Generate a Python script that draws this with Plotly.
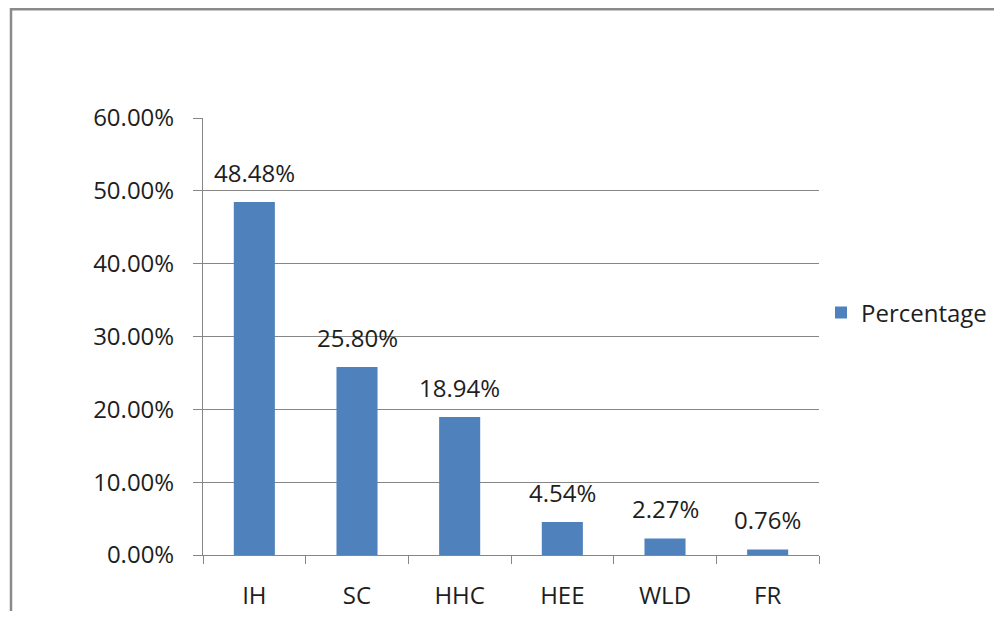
import plotly.graph_objects as go

categories = ["IH", "SC", "HHC", "HEE", "WLD", "FR"]
percentages = [0.4848, 0.2580, 0.1894, 0.0454, 0.0227, 0.0076]
series_name = "Percentage"

# page body has an 8px margin on every side; size the figure so the page is 1002x619
OFF = 8
W, H = 1002 - 2 * OFF, 619 - 2 * OFF
L, R, T, B = 203 - OFF, 819 - OFF, 118 - OFF, 555 - OFF
pw, ph = R - L, B - T

FONT = "Open Sans"
FS = 24
TXT = "#1e1e1e"
GRID = "#868686"
BAR = "#4F81BD"

fig = go.Figure()
fig.add_trace(go.Bar(
    x=categories, y=percentages, name=series_name,
    marker=dict(color=BAR, line=dict(width=0)),
    width=0.4, showlegend=True,
))

annotations = [
    dict(x=c, y=v, xref="x", yref="y", text=f"{v*100:.2f}%", showarrow=False,
         yanchor="bottom", yshift=11, font=dict(family=FONT, size=FS, color=TXT))
    for c, v in zip(categories, percentages)
]

fig.update_layout(
    width=W, height=H,
    margin=dict(l=L, r=W - R, t=T, b=H - B, pad=0, autoexpand=False),
    paper_bgcolor="white", plot_bgcolor="white",
    font=dict(family=FONT, size=FS, color=TXT),
    bargap=0.6,
    legend=dict(x=(821 - OFF - L) / pw, y=(B - (313 - OFF)) / ph,
                xanchor="left", yanchor="middle",
                font=dict(family=FONT, size=FS, color=TXT), itemwidth=30,
                bgcolor="rgba(0,0,0,0)"),
    annotations=annotations,
    shapes=[dict(type="rect", xref="paper", yref="paper",
                 x0=(11 - OFF - L) / pw, x1=(1020 - OFF - L) / pw,
                 y0=(B - (640 - OFF)) / ph, y1=(B - 1.2) / ph,
                 line=dict(color="#8a8a8a", width=2.5), layer="above")],
)
fig.update_xaxes(
    showline=True, linecolor=GRID, linewidth=1,
    ticks="outside", tickson="boundaries", ticklen=8, tickcolor=GRID,
    showgrid=False, ticklabelstandoff=19, automargin=False,
    tickfont=dict(family=FONT, size=FS, color=TXT),
)
fig.update_yaxes(
    range=[0, 0.6], dtick=0.1, tickformat=".2%",
    showline=True, linecolor=GRID, linewidth=1,
    ticks="outside", ticklen=9, tickcolor=GRID,
    showgrid=True, gridcolor=GRID, gridwidth=1, zeroline=False,
    ticklabelstandoff=14, automargin=False,
    tickfont=dict(family=FONT, size=FS, color=TXT),
)

fig.write_html("out.html")
